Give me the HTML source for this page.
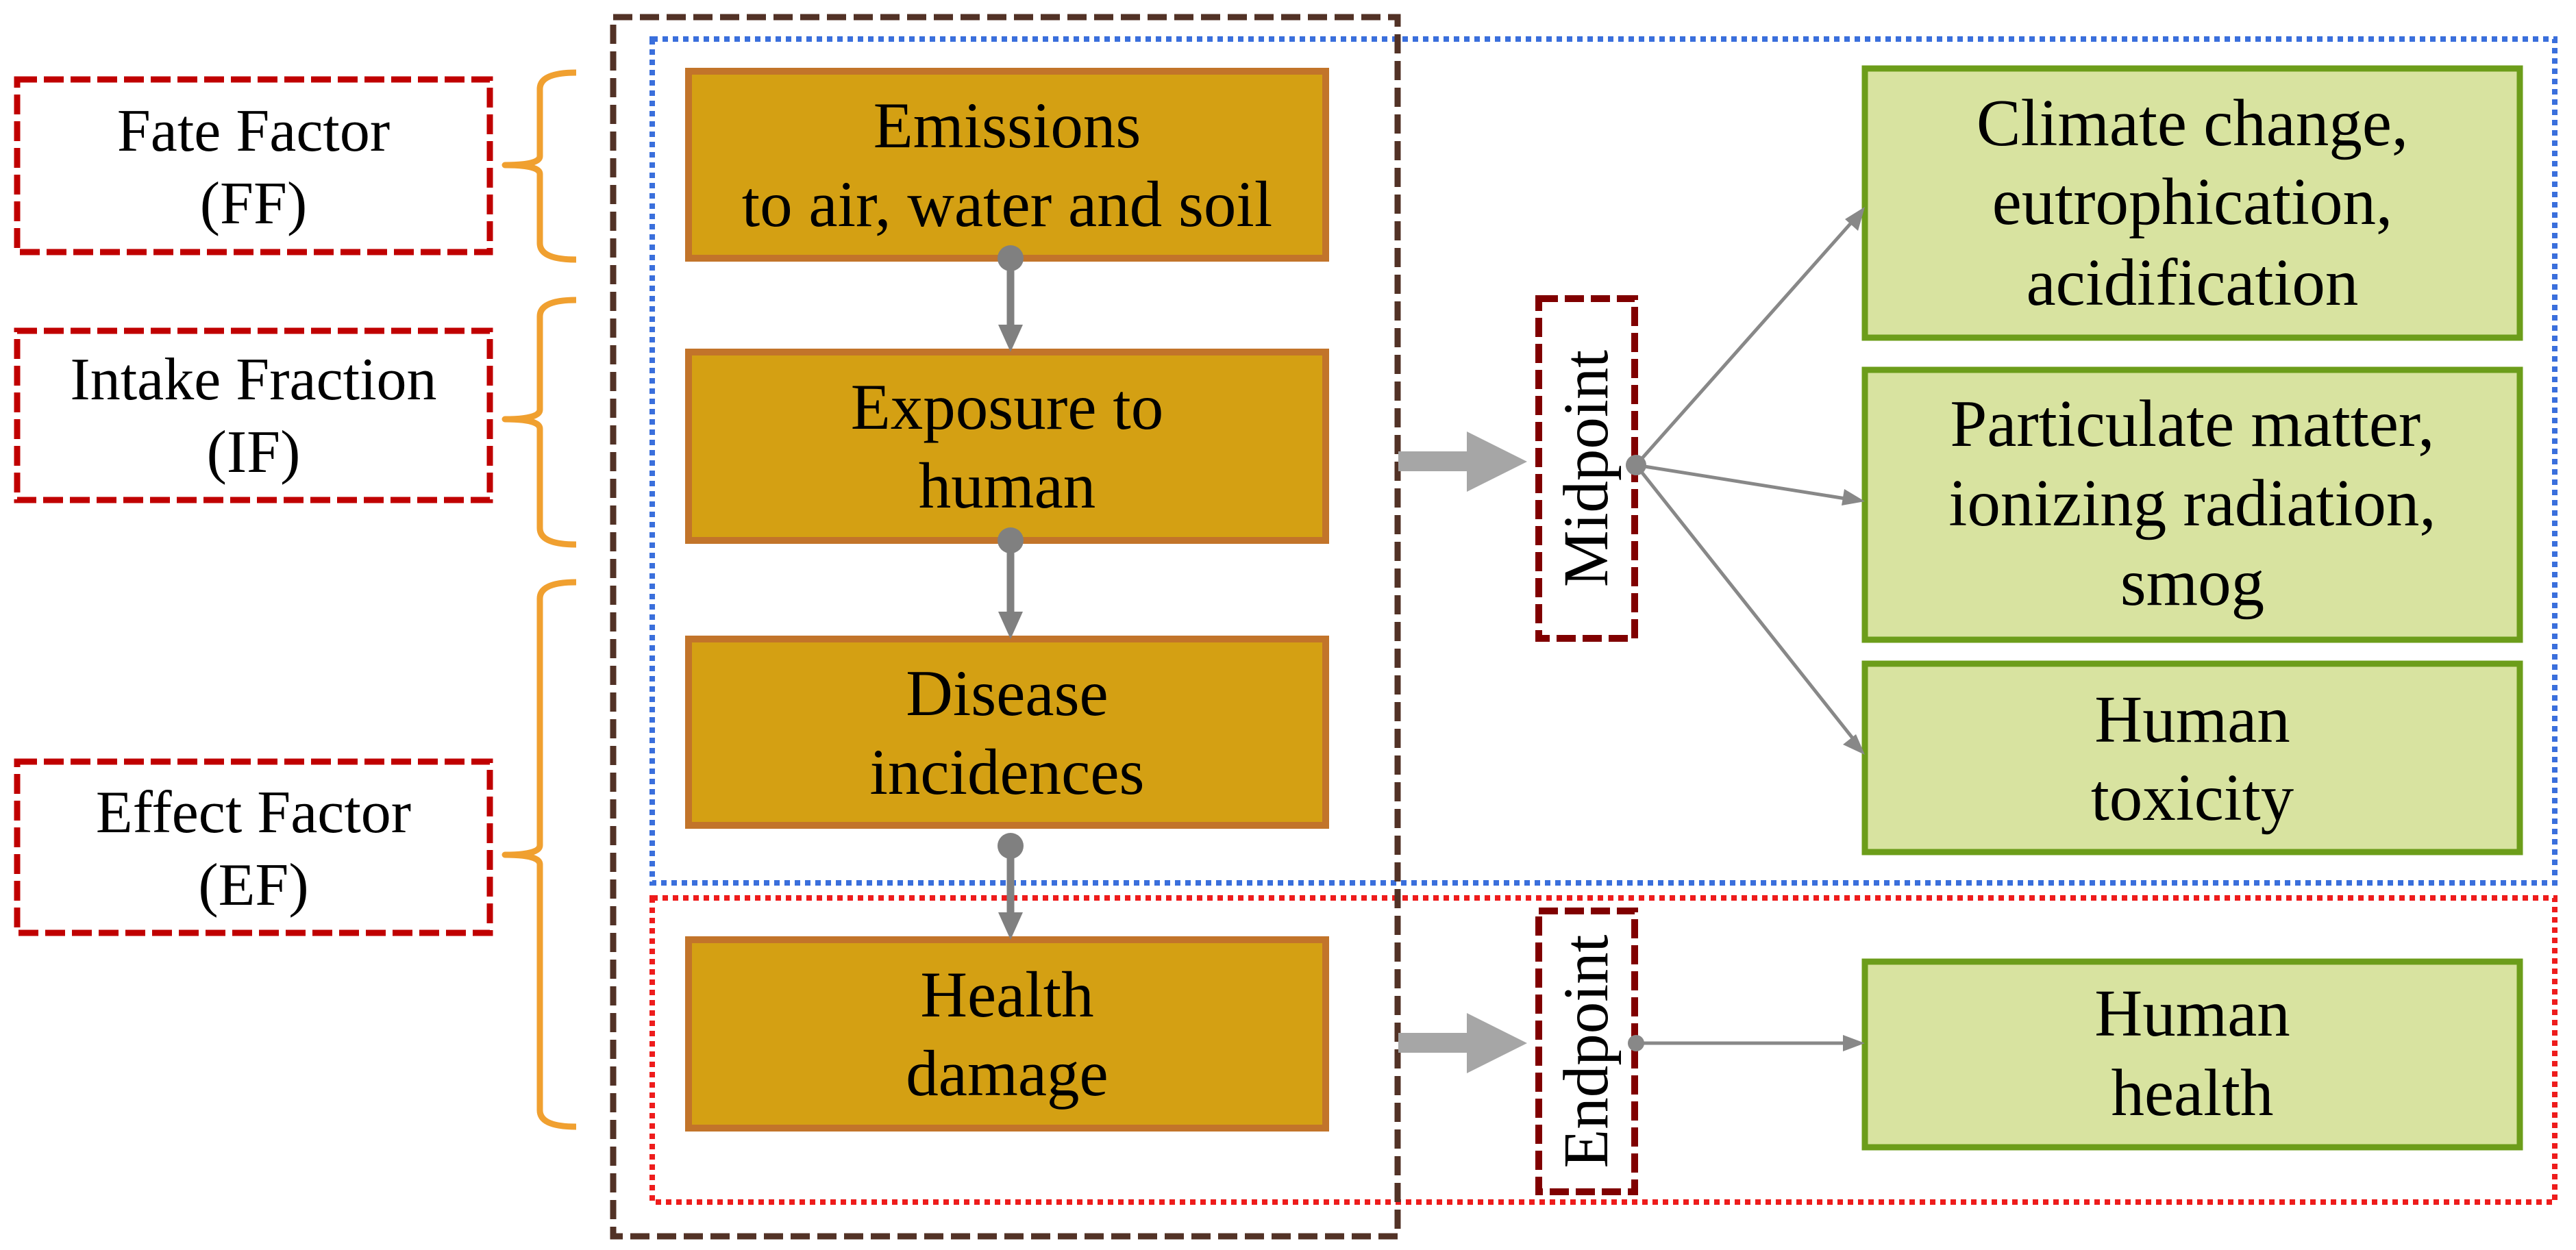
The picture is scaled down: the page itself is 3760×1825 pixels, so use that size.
<!DOCTYPE html>
<html><head><meta charset="utf-8"><style>
html,body{margin:0;padding:0;background:#fff;}
svg{display:block;}
text{font-family:"Liberation Serif",serif;fill:#000;}
</style></head><body>
<svg width="3760" height="1825" viewBox="0 0 3760 1825" xmlns="http://www.w3.org/2000/svg">
<defs>
<marker id="ah" markerWidth="10" markerHeight="10" refX="9" refY="5" orient="auto" markerUnits="userSpaceOnUse" viewBox="0 0 10 10">
</marker>
</defs>

<!-- container boxes -->
<rect x="952" y="57" width="2777" height="1232" fill="none" stroke="#3a6fdc" stroke-width="8" stroke-dasharray="8 7"/>
<rect x="952" y="1311" width="2777" height="444" fill="none" stroke="#ee1c1c" stroke-width="8" stroke-dasharray="8 7"/>
<rect x="895" y="25" width="1145" height="1780" fill="none" stroke="#523226" stroke-width="9" stroke-dasharray="28 11"/>

<!-- left dashed boxes -->
<g fill="#fff" stroke="#c00000" stroke-width="9" stroke-dasharray="29 10">
<rect x="25" y="116" width="690" height="252"/>
<rect x="25" y="483" width="690" height="247"/>
<rect x="25" y="1112" width="690" height="250"/>
</g>
<g font-size="88" text-anchor="middle">
<text x="370" y="220">Fate Factor</text><text x="370" y="326">(FF)</text>
<text x="370" y="583">Intake Fraction</text><text x="370" y="689">(IF)</text>
<text x="370" y="1215">Effect Factor</text><text x="370" y="1321">(EF)</text>
</g>

<!-- braces -->
<g fill="none" stroke="#f0a030" stroke-width="9" stroke-linejoin="round">
<path d="M841,106 Q788,106 788,130 L788,228 Q788,241 737,241 Q788,241 788,254 L788,355 Q788,379 841,379"/>
<path d="M841,438 Q788,438 788,462 L788,598 Q788,612 737,612 Q788,612 788,626 L788,771 Q788,795 841,795"/>
<path d="M841,850 Q788,850 788,874 L788,1234 Q788,1248 737,1248 Q788,1248 788,1262 L788,1621 Q788,1645 841,1645"/>
</g>

<!-- orange boxes -->
<g fill="#d4a013" stroke="#c2742a" stroke-width="10">
<rect x="1005" y="104" width="930" height="273"/>
<rect x="1005" y="514" width="930" height="275"/>
<rect x="1005" y="933" width="930" height="272"/>
<rect x="1005" y="1372" width="930" height="275"/>
</g>
<g font-size="95" text-anchor="middle">
<text x="1470" y="215">Emissions</text><text x="1470" y="330">to air, water and soil</text>
<text x="1470" y="626">Exposure to</text><text x="1470" y="741">human</text>
<text x="1470" y="1044">Disease</text><text x="1470" y="1159">incidences</text>
<text x="1470" y="1484">Health</text><text x="1470" y="1599">damage</text>
</g>

<!-- vertical connectors -->
<g fill="#808080" stroke="#808080">
<circle cx="1475" cy="377" r="19" stroke="none"/>
<line x1="1475" y1="377" x2="1475" y2="480" stroke-width="11"/>
<polygon points="1457,474 1493,474 1475,514" stroke="none"/>
<circle cx="1475" cy="789" r="19" stroke="none"/>
<line x1="1475" y1="789" x2="1475" y2="900" stroke-width="11"/>
<polygon points="1457,893 1493,893 1475,933" stroke="none"/>
<circle cx="1475" cy="1235" r="19" stroke="none"/>
<line x1="1475" y1="1235" x2="1475" y2="1340" stroke-width="11"/>
<polygon points="1457,1332 1493,1332 1475,1372" stroke="none"/>
</g>

<!-- big gray arrows -->
<g fill="#a6a6a6">
<polygon points="2041,659 2141,659 2141,630 2229,674 2141,718 2141,688 2041,688"/>
<polygon points="2041,1508 2141,1508 2141,1479 2229,1523 2141,1567 2141,1537 2041,1537"/>
</g>

<!-- midpoint / endpoint boxes -->
<g fill="#fff" stroke="#800000" stroke-width="10" stroke-dasharray="28 10">
<rect x="2246" y="436" width="140" height="496"/>
<rect x="2246" y="1330" width="140" height="410"/>
</g>
<text font-size="93" text-anchor="middle" transform="translate(2346,684) rotate(-90)">Midpoint</text>
<text font-size="93" text-anchor="middle" transform="translate(2346,1535) rotate(-90)">Endpoint</text>

<!-- green boxes -->
<g fill="#d8e3a0" stroke="#6c9d1a" stroke-width="9">
<rect x="2722" y="100" width="956" height="393"/>
<rect x="2722" y="540" width="956" height="394"/>
<rect x="2722" y="969" width="956" height="275"/>
<rect x="2722" y="1404" width="956" height="271"/>
</g>
<g font-size="97" text-anchor="middle">
<text x="3200" y="212">Climate change,</text><text x="3200" y="327">eutrophication,</text><text x="3200" y="445">acidification</text>
<text x="3200" y="651">Particulate matter,</text><text x="3200" y="767">ionizing radiation,</text><text x="3200" y="883">smog</text>
<text x="3200" y="1083">Human</text><text x="3200" y="1197">toxicity</text>
<text x="3200" y="1512">Human</text><text x="3200" y="1628">health</text>
</g>

<!-- thin gray connectors -->
<g stroke="#888" stroke-width="5" fill="#888">
<line x1="2388" y1="679" x2="2705" y2="322"/>
<line x1="2388" y1="679" x2="2700" y2="729"/>
<line x1="2388" y1="679" x2="2706" y2="1080"/>
<line x1="2388" y1="1523" x2="2700" y2="1523"/>
</g>
<g fill="#888">
<circle cx="2388" cy="679" r="15"/>
<circle cx="2388" cy="1523" r="12"/>
<polygon points="2722,302 2712,337 2693,320"/>
<polygon points="2722,732 2688,738 2692,714"/>
<polygon points="2722,1102 2690,1087 2709,1072"/>
<polygon points="2722,1523 2690,1535 2690,1511"/>
</g>
</svg>
</body></html>
